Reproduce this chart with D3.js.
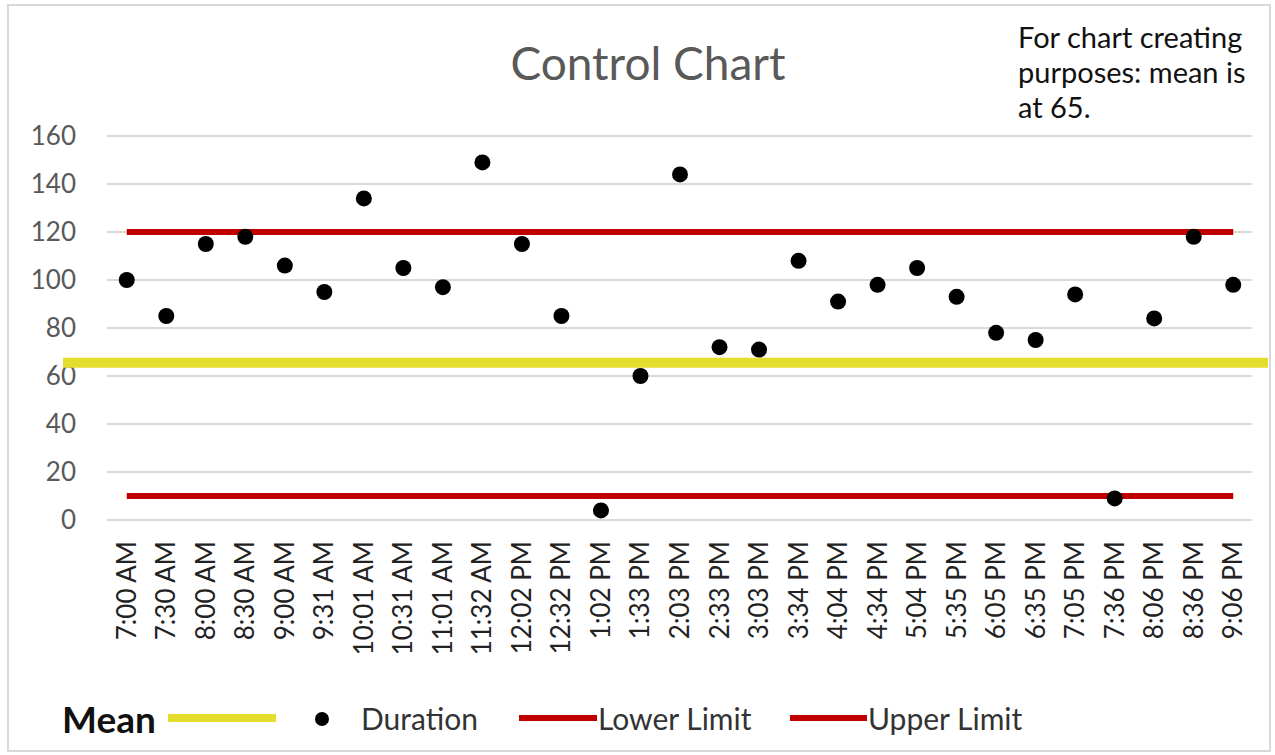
<!DOCTYPE html>
<html>
<head>
<meta charset="utf-8">
<script src="https://cdn.jsdelivr.net/npm/d3@7"></script>
<style>
  body { margin: 0; background: #fff; }
  svg text { font-family: Lato, "Open Sans", sans-serif; }
</style>
</head>
<body>
<div id="chart"></div>
<script>
// control chart data
const times = ['7:00 AM', '7:30 AM', '8:00 AM', '8:30 AM', '9:00 AM', '9:31 AM', '10:01 AM',
    '10:31 AM', '11:01 AM', '11:32 AM', '12:02 PM', '12:32 PM', '1:02 PM', '1:33 PM', '2:03 PM',
    '2:33 PM', '3:03 PM', '3:34 PM', '4:04 PM', '4:34 PM', '5:04 PM', '5:35 PM', '6:05 PM',
    '6:35 PM', '7:05 PM', '7:36 PM', '8:06 PM', '8:36 PM', '9:06 PM'];
const durations = [100, 85, 115, 118, 106, 95, 134, 105, 97, 149, 115, 85, 4, 60, 144,
    72, 71, 108, 91, 98, 105, 93, 78, 75, 94, 9, 84, 118, 98];
const meanValue = 65.5;
const lowerLimit = 10;
const upperLimit = 120;
const yTicks = [0, 20, 40, 60, 80, 100, 120, 140, 160];
const legendItems = ['Mean', 'Duration', 'Lower Limit', 'Upper Limit'];

const width = 1275;
const height = 755;
const yellow = '#e4dd2c';
const red = '#c00000';

const svg = d3.select('#chart')
    .append('svg')
    .attr('width', width)
    .attr('height', height);

svg.append('rect')
    .attr('x', 8).attr('y', 5)
    .attr('width', 1262).attr('height', 746)
    .attr('fill', '#fff')
    .attr('stroke', '#d9d9d9')
    .attr('stroke-width', 2);

const x = d3.scaleBand().domain(times).range([107, 1253]);
const y = d3.scaleLinear().domain([0, 160]).range([520, 136]);
const cx = d => x(d) + x.bandwidth() / 2;

// gridlines
svg.append('g')
    .selectAll('line')
    .data(yTicks)
    .enter()
    .append('line')
    .attr('x1', 107).attr('x2', 1252)
    .attr('y1', d => y(d)).attr('y2', d => y(d))
    .attr('stroke', '#d9d9d9')
    .attr('stroke-width', 2);

// y axis labels
svg.append('g')
    .selectAll('text')
    .data(yTicks)
    .enter()
    .append('text')
    .attr('x', 76)
    .attr('y', d => y(d))
    .attr('dy', '0.36em')
    .attr('text-anchor', 'end')
    .attr('font-size', 26)
    .attr('fill', '#595959')
    .text(d => d);

// x axis labels, rotated
svg.append('g')
    .selectAll('text')
    .data(times)
    .enter()
    .append('text')
    .attr('transform', d => `translate(${cx(d) + 9},541) rotate(-90)`)
    .attr('text-anchor', 'end')
    .attr('font-size', 26)
    .attr('fill', '#222')
    .text(d => d);

// limit lines
[lowerLimit, upperLimit].forEach(v => {
    svg.append('line')
        .attr('x1', cx(times[0])).attr('x2', cx(times[times.length - 1]))
        .attr('y1', y(v)).attr('y2', y(v))
        .attr('stroke', red)
        .attr('stroke-width', 6);
});

// mean line
svg.append('line')
    .attr('x1', 63).attr('x2', 1268)
    .attr('y1', y(meanValue)).attr('y2', y(meanValue))
    .attr('stroke', yellow)
    .attr('stroke-width', 10);

// points
svg.append('g')
    .selectAll('circle')
    .data(durations)
    .enter()
    .append('circle')
    .attr('cx', (d, i) => cx(times[i]))
    .attr('cy', d => y(d))
    .attr('r', 8)
    .attr('fill', '#000');

// title
svg.append('text')
    .attr('x', 648).attr('y', 80)
    .attr('text-anchor', 'middle')
    .attr('font-size', 46)
    .attr('fill', '#595959')
    .text('Control Chart');

// note
const note = ['For chart creating', 'purposes: mean is', 'at 65.'];
svg.append('g')
    .selectAll('text')
    .data(note)
    .enter()
    .append('text')
    .attr('x', 1018)
    .attr('y', (d, i) => 48 + i * 35)
    .attr('font-size', 29)
    .attr('fill', '#111')
    .text(d => d);

// legend
const lg = svg.append('g');
lg.append('text').attr('x', 62).attr('y', 733)
    .attr('font-size', 37).attr('font-weight', 'bold').attr('fill', '#111')
    .text(legendItems[0]);
lg.append('line').attr('x1', 168).attr('x2', 276).attr('y1', 718).attr('y2', 718)
    .attr('stroke', yellow).attr('stroke-width', 8);
lg.append('circle').attr('cx', 322).attr('cy', 719).attr('r', 7).attr('fill', '#000');
lg.append('text').attr('x', 361).attr('y', 730)
    .attr('font-size', 30).attr('fill', '#333')
    .text(legendItems[1]);
lg.append('line').attr('x1', 519).attr('x2', 597).attr('y1', 718).attr('y2', 718)
    .attr('stroke', red).attr('stroke-width', 6);
lg.append('text').attr('x', 598).attr('y', 730)
    .attr('font-size', 30).attr('fill', '#333')
    .text(legendItems[2]);
lg.append('line').attr('x1', 790).attr('x2', 867).attr('y1', 718).attr('y2', 718)
    .attr('stroke', red).attr('stroke-width', 6);
lg.append('text').attr('x', 868).attr('y', 730)
    .attr('font-size', 30).attr('fill', '#333')
    .text(legendItems[3]);
</script>
</body>
</html>
